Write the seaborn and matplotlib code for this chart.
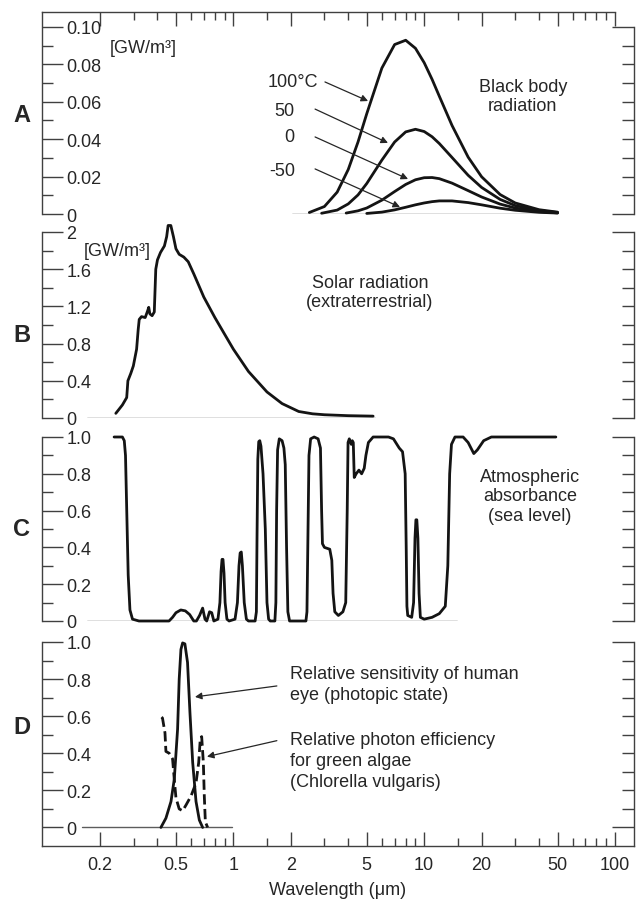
import matplotlib
matplotlib.use("Agg")
import matplotlib.pyplot as plt
from matplotlib.ticker import NullFormatter
import seaborn as sns

# ---------------- data ----------------
# Wavelength axis ticks (micrometres)
x_major = [0.2, 0.5, 1, 2, 5, 10, 20, 50, 100]
x_major_labels = ["0.2", "0.5", "1", "2", "5", "10", "20", "50", "100"]
x_minor = [0.3, 0.4, 0.6, 0.7, 0.8, 0.9, 1.5, 3, 4, 6, 7, 8, 9, 15,
           30, 40, 60, 70, 80, 90]

# A: black body radiation [GW/m^3]
bb100_wl = [2.5, 3, 3.5, 4, 4.5, 5, 6, 7, 8, 9, 10, 11, 12, 14, 17, 20, 25, 30, 40, 50]
bb100 = [0.0008, 0.0040, 0.0117, 0.0238, 0.0385, 0.0536, 0.0780, 0.0906, 0.0929,
         0.0886, 0.0809, 0.0720, 0.0630, 0.0473, 0.0304, 0.0199, 0.0104, 0.0059,
         0.0023, 0.0010]
bb50_wl = [2.9, 3.5, 4, 4.5, 5, 6, 7, 8, 9, 10, 11, 12, 14, 17, 20, 25, 30, 40, 50]
bb50 = [0.0004, 0.0021, 0.0054, 0.0102, 0.0163, 0.0288, 0.0385, 0.0439, 0.0453,
        0.0441, 0.0413, 0.0377, 0.0302, 0.0207, 0.0142, 0.0078, 0.0045, 0.0018,
        0.0008]
bb0_wl = [3.9, 4.5, 5, 6, 7, 8, 9, 10, 11, 12, 14, 17, 20, 25, 30, 40, 50]
bb0 = [0.0005, 0.0017, 0.0032, 0.0074, 0.0120, 0.0158, 0.0183, 0.0194, 0.0195,
       0.0189, 0.0165, 0.0125, 0.0091, 0.0053, 0.0032, 0.0013, 0.0006]
bbm50_wl = [5, 6, 7, 8, 9, 10, 11, 12, 14, 17, 20, 25, 30, 40, 50]
bbm50 = [0.0003, 0.0010, 0.0022, 0.0036, 0.0049, 0.0059, 0.0066, 0.0070, 0.0070,
         0.0061, 0.0049, 0.0031, 0.0020, 0.0009, 0.0005]
bb_temps = ["100°C", "50", "0", "-50"]
bb_baseline = [2.04, 50]

# B: extraterrestrial solar radiation [GW/m^3]
sun_wl = [0.242, 0.262, 0.276, 0.280, 0.29, 0.299, 0.311, 0.317, 0.321, 0.33,
          0.345, 0.355, 0.36, 0.365, 0.375, 0.385, 0.392, 0.40, 0.415, 0.435,
          0.447, 0.455, 0.47, 0.485, 0.50, 0.52, 0.55, 0.58, 0.62, 0.70, 0.80,
          0.90, 1.00, 1.20, 1.50, 1.80, 2.2, 2.6, 3.0, 4.0, 5.4]
sun = [0.05, 0.14, 0.22, 0.40, 0.48, 0.56, 0.74, 0.95, 1.06, 1.09,
       1.08, 1.15, 1.19, 1.12, 1.10, 1.14, 1.60, 1.70, 1.78, 1.85,
       1.95, 2.07, 2.07, 1.95, 1.82, 1.76, 1.73, 1.68, 1.55, 1.30, 1.08,
       0.90, 0.74, 0.50, 0.28, 0.155, 0.07, 0.045, 0.035, 0.025, 0.02]
sun_baseline = [0.171, 5.5]

# C: atmospheric absorbance at sea level
atm_wl = [0.237, 0.262, 0.268, 0.272, 0.276, 0.281, 0.287, 0.296, 0.32, 0.46,
          0.48, 0.50, 0.53, 0.56, 0.59, 0.62, 0.64, 0.665, 0.69, 0.71,
          0.725, 0.75, 0.77, 0.79, 0.83, 0.85, 0.862, 0.872, 0.882, 0.893,
          0.905, 0.925, 0.95, 1.02, 1.05, 1.07, 1.085, 1.10, 1.115, 1.14,
          1.17, 1.20, 1.30, 1.32, 1.33, 1.343, 1.358, 1.375, 1.395, 1.43,
          1.47, 1.50, 1.53, 1.56, 1.65, 1.67, 1.685, 1.705, 1.74, 1.80,
          1.84, 1.87, 1.90, 1.93, 1.97, 2.40, 2.43, 2.46, 2.49, 2.54,
          2.65, 2.78, 2.86, 2.90, 2.93, 3.00, 3.20, 3.28, 3.33, 3.40,
          3.55, 3.75, 3.88, 3.95, 3.99, 4.05, 4.15, 4.20, 4.25, 4.30,
          4.40, 4.55, 4.70, 4.85, 4.95, 5.10, 5.40, 6.50, 6.90, 7.20,
          7.40, 7.70, 7.95, 8.05, 8.12, 8.20, 8.60, 8.80, 8.95, 9.05,
          9.15, 9.27, 9.40, 9.55, 10.0, 11.0, 12.0, 12.9, 13.3, 13.6,
          13.9, 14.5, 16.0, 17.0, 18.2, 19.0, 20.5, 22.5, 49.0]
atm = [1.00, 1.00, 0.98, 0.90, 0.60, 0.25, 0.06, 0.01, 0.0, 0.0,
       0.02, 0.045, 0.06, 0.055, 0.035, 0.0, 0.0, 0.03, 0.07, 0.01,
       0.0, 0.05, 0.045, 0.0, 0.01, 0.10, 0.27, 0.335, 0.335, 0.26,
       0.10, 0.01, 0.0, 0.01, 0.10, 0.30, 0.37, 0.375, 0.30, 0.10,
       0.01, 0.0, 0.0, 0.05, 0.45, 0.88, 0.975, 0.98, 0.95, 0.80,
       0.50, 0.10, 0.01, 0.0, 0.0, 0.10, 0.60, 0.93, 0.99, 0.98,
       0.94, 0.85, 0.40, 0.05, 0.0, 0.0, 0.05, 0.50, 0.90, 0.99,
       1.0, 0.99, 0.94, 0.60, 0.42, 0.40, 0.39, 0.33, 0.15, 0.05,
       0.03, 0.05, 0.10, 0.60, 0.97, 0.99, 0.96, 0.98, 0.97, 0.78,
       0.80, 0.82, 0.80, 0.83, 0.90, 0.97, 1.0, 1.0, 0.99, 0.96,
       0.94, 0.92, 0.80, 0.40, 0.08, 0.03, 0.02, 0.10, 0.45, 0.55,
       0.55, 0.45, 0.15, 0.02, 0.01, 0.02, 0.04, 0.08, 0.30, 0.80,
       0.96, 1.0, 1.0, 0.97, 0.91, 0.93, 0.98, 1.0, 1.0]
atm_baseline = [0.171, 14.8]

# D: relative sensitivity of the eye, relative photon efficiency of algae
eye_wl = [0.417, 0.443, 0.471, 0.49, 0.51, 0.52, 0.531, 0.542, 0.557, 0.575,
          0.592, 0.612, 0.637, 0.663, 0.69]
eye = [0.0, 0.05, 0.14, 0.26, 0.53, 0.80, 0.96, 0.995, 0.99, 0.89,
       0.62, 0.35, 0.14, 0.04, 0.0]
algae_wl = [0.42, 0.425, 0.438, 0.443, 0.461, 0.48, 0.49, 0.50, 0.52, 0.542,
            0.564, 0.60, 0.637, 0.658, 0.671, 0.682, 0.696, 0.704, 0.713, 0.733]
algae = [0.595, 0.59, 0.51, 0.41, 0.40, 0.37, 0.26, 0.16, 0.10, 0.09,
         0.12, 0.17, 0.24, 0.35, 0.48, 0.49, 0.35, 0.17, 0.03, 0.0]
vis_baseline = [0.16, 0.98]

# ---------------- style ----------------
sns.set_style("ticks")
plt.rcParams["font.family"] = ["Liberation Sans", "DejaVu Sans"]
plt.rcParams["font.size"] = 13

INK = "#141414"
AXC = "#404040"
BASE = "#5c5c5c"
LW = 2.0
XLIM = (0.0993, 125.8)

W, H = 638, 903
fig = plt.figure(figsize=(W / 100, H / 100), dpi=100)


def frame(top_px, bottom_px):
    return [42 / W, 1 - bottom_px / H, (634 - 42) / W, (bottom_px - top_px) / H]


axA = fig.add_axes(frame(13, 215))
axB = fig.add_axes(frame(233, 419), sharex=axA)
axC = fig.add_axes(frame(438, 622), sharex=axA)
axD = fig.add_axes(frame(643, 847), sharex=axA)

axA.set_xscale("log")
axA.set_xlim(*XLIM)
axA.set_xticks(x_major, labels=x_major_labels)
axA.set_xticks(x_minor, minor=True)
axA.xaxis.set_minor_formatter(NullFormatter())


def setup_y(ax, ylim, left_bounds, ticks, labels, minor, right_bounds, caps, inner):
    ax.set_ylim(*ylim)
    ax.set_yticks(ticks, labels=labels)
    ax.set_yticks(minor, minor=True)
    ax.tick_params(axis="y", which="major", direction="in", length=15, width=1.0,
                   color=AXC, pad=-17.5, labelsize=13, left=True, right=False)
    ax.tick_params(axis="y", which="minor", direction="in", length=8, width=1.0,
                   color=AXC, left=True, right=False)
    for t in ax.get_yticklabels():
        t.set_horizontalalignment("left")
    for s in ax.spines.values():
        s.set_color(AXC)
        s.set_linewidth(1.0)
    ax.spines["left"].set_bounds(*left_bounds)
    ax.spines["right"].set_visible(False)

    tw = ax.twinx()
    tw.set_ylim(*ylim)
    tw.set_yticks(caps)
    tw.set_yticks(inner, minor=True)
    tw.tick_params(axis="y", which="major", direction="in", length=16, width=1.0,
                   color=AXC, labelright=False)
    tw.tick_params(axis="y", which="minor", direction="in", length=9, width=1.0,
                   color=AXC)
    for s in ["left", "top", "bottom"]:
        tw.spines[s].set_visible(False)
    tw.spines["right"].set_color(AXC)
    tw.spines["right"].set_linewidth(1.0)
    tw.spines["right"].set_bounds(*right_bounds)
    return tw


tenth = [round(0.1 * i, 1) for i in range(11)]
hundredth = [round(0.01 * i, 2) for i in range(11)]

setup_y(axA, (0, 0.108), (0, 0.108),
        hundredth[::2], ["0", "0.02", "0.04", "0.06", "0.08", "0.10"], hundredth[1::2],
        (0, 0.10), [0, 0.10], hundredth[1:-1])
setup_y(axB, (0, 2), (0, 2),
        [0, 0.4, 0.8, 1.2, 1.6, 2], ["0", "0.4", "0.8", "1.2", "1.6", "2"],
        [0.2, 0.6, 1.0, 1.4, 1.8],
        (0, 2), [0, 2], [0.2, 0.4, 0.6, 0.8, 1.0, 1.2, 1.4, 1.6, 1.8])
setup_y(axC, (0, 1), (0, 1),
        tenth[::2], ["0", "0.2", "0.4", "0.6", "0.8", "1.0"], tenth[1::2],
        (0, 1), [0, 1], tenth[1:-1])
setup_y(axD, (-0.1, 1.0), (-0.1, 1.0),
        tenth[::2], ["0", "0.2", "0.4", "0.6", "0.8", "1.0"], tenth[1::2],
        (-0.1, 1.0), [0, 1], tenth[1:-1])

# horizontal frame lines: top of A, bottom of D
axA.spines["bottom"].set_visible(False)
axA.spines["top"].set_bounds(XLIM[0], 100)
for ax in (axB, axC):
    ax.spines["top"].set_visible(False)
    ax.spines["bottom"].set_visible(False)
axD.spines["top"].set_visible(False)

for ax in (axA, axB, axC, axD):
    ax.tick_params(axis="x", which="both", bottom=False, top=False,
                   labelbottom=False, labeltop=False, color=AXC, width=1.0,
                   direction="in")
axA.tick_params(axis="x", which="major", top=True, length=10)
axA.tick_params(axis="x", which="minor", top=True, length=5.5)
axD.tick_params(axis="x", which="major", bottom=True, labelbottom=True, length=10,
                pad=7, labelsize=13)
axD.tick_params(axis="x", which="minor", bottom=True, length=5.5)
axD.set_xlabel("Wavelength (μm)", fontsize=13, labelpad=6)


def curve(ax, x, y, **kw):
    sns.lineplot(x=x, y=y, ax=ax, color=INK, lw=LW, sort=False, estimator=None,
                 clip_on=False, solid_joinstyle="round", dash_joinstyle="round",
                 **kw)


def baseline(ax, span):
    ax.plot(span, [0, 0], color=BASE, lw=1.0, zorder=1)


arrow = dict(arrowstyle="-|>", color="#262626", lw=0.9, mutation_scale=10,
             shrinkA=0, shrinkB=0)

# ---- A ----
baseline(axA, bb_baseline)
for wl, val in ((bb100_wl, bb100), (bb50_wl, bb50), (bb0_wl, bb0), (bbm50_wl, bbm50)):
    curve(axA, wl, val)
axA.text(0.2255, 0.0888, "[GW/m³]", ha="left", va="center")
axA.text(2.776, 0.0711, bb_temps[0], ha="right", va="center")
axA.text(2.10, 0.0551, bb_temps[1], ha="right", va="center")
axA.text(2.10, 0.0412, bb_temps[2], ha="right", va="center")
axA.text(2.10, 0.0230, bb_temps[3], ha="right", va="center")
axA.annotate("", xy=(5.08, 0.0604), xytext=(3.02, 0.0706), arrowprops=arrow)
axA.annotate("", xy=(6.46, 0.0380), xytext=(2.68, 0.0561), arrowprops=arrow)
axA.annotate("", xy=(8.23, 0.0187), xytext=(2.68, 0.0412), arrowprops=arrow)
axA.annotate("", xy=(7.47, 0.0037), xytext=(2.68, 0.0241), arrowprops=arrow)
axA.text(32.9, 0.0631, "Black body\nradiation", ha="center", va="center",
         linespacing=1.15)

# ---- B ----
baseline(axB, sun_baseline)
curve(axB, sun_wl, sun)
axB.text(0.165, 1.80, "[GW/m³]", ha="left", va="center")
axB.text(5.2, 1.355, "Solar radiation\n(extraterrestrial)", ha="center",
         va="center", linespacing=1.15)

# ---- C ----
baseline(axC, atm_baseline)
curve(axC, atm_wl, atm)
axC.text(35.9, 0.68, "Atmospheric\nabsorbance\n(sea level)", ha="center",
         va="center", linespacing=1.2)

# ---- D ----
baseline(axD, vis_baseline)
curve(axD, eye_wl, eye)
curve(axD, algae_wl, algae, linestyle="--")
axD.text(1.98, 0.772, "Relative sensitivity of human\neye (photopic state)",
         ha="left", va="center", linespacing=1.3)
axD.text(1.98, 0.363, "Relative photon efficiency\nfor green algae\n(Chlorella vulgaris)",
         ha="left", va="center", linespacing=1.3)
axD.annotate("", xy=(0.629, 0.704), xytext=(1.69, 0.763), arrowprops=arrow)
axD.annotate("", xy=(0.727, 0.382), xytext=(1.69, 0.468), arrowprops=arrow)

# panel letters
for letter, ypix in (("A", 115), ("B", 335), ("C", 530), ("D", 728)):
    fig.text(22 / W, 1 - ypix / H, letter, fontsize=17, fontweight="bold",
             ha="center", va="center")

fig.savefig("out.png", dpi=100)
